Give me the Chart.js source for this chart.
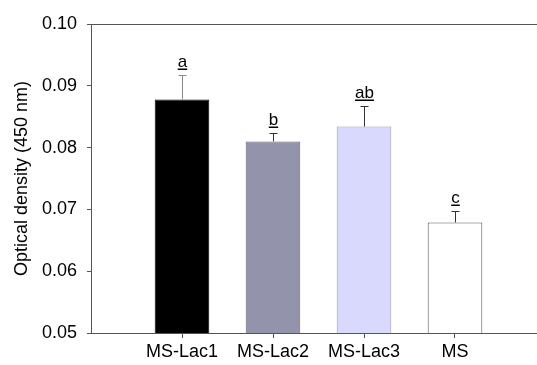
<!DOCTYPE html>
<html><head><meta charset="utf-8">
<script src="https://cdn.jsdelivr.net/npm/chart.js@4"></script>
<style>html,body{margin:0;padding:0;background:#fff;overflow:hidden}#wrap{width:537px;height:365px;position:relative}</style>
</head><body><div id="wrap"><canvas id="c"></canvas></div>
<script>
// ---- data ----
const categories = ['MS-Lac1', 'MS-Lac2', 'MS-Lac3', 'MS'];
const meanValues = [0.0878, 0.0810, 0.0834, 0.0679];
const errorValues = [0.0039, 0.0013, 0.0034, 0.0019];
const groupLetters = ['a', 'b', 'ab', 'c'];
const yTickValues = [0.05, 0.06, 0.07, 0.08, 0.09, 0.10];
const yAxisTitle = 'Optical density (450 nm)';

// ---- styles ----
const fillColors = ['#000000', '#9393ab', '#d9d9fd', '#ffffff'];
const borderColors = ['#000000', '#62627c', '#9a9ab4', '#555555'];
const errorColors = ['#8a8a8a', '#333333', '#333333', '#333333'];
const FONT = '"Liberation Sans", Arial, sans-serif';
const axisColor = '#555555';

const points = meanValues.map((v, i) => ({ x: i + 1, y: v }));

const errorPlugin = {
  id: 'errLetters',
  afterDatasetsDraw(chart) {
    const ctx = chart.ctx, xs = chart.scales.x, ys = chart.scales.y;
    ctx.save();
    meanValues.forEach((m, i) => {
      const x = Math.round(xs.getPixelForValue(i + 1)) + 0.5;
      const yb = ys.getPixelForValue(m);
      const yt = Math.round(ys.getPixelForValue(m + errorValues[i])) + 0.5;
      ctx.strokeStyle = errorColors[i];
      ctx.lineWidth = 1;
      ctx.beginPath();
      ctx.moveTo(x, yb); ctx.lineTo(x, yt);
      ctx.moveTo(x - 4, yt); ctx.lineTo(x + 4, yt);
      ctx.stroke();
      // letter
      ctx.font = '17px ' + FONT;
      ctx.fillStyle = '#000';
      ctx.textAlign = 'center';
      ctx.textBaseline = 'alphabetic';
      const base = yt - 9;
      ctx.fillText(groupLetters[i], x, base);
      const w = ctx.measureText(groupLetters[i]).width;
      ctx.fillRect(x - w / 2, base + 2, w, 1.5);
    });
    ctx.restore();
  }
};

new Chart(document.getElementById('c'), {
  type: 'bar',
  data: {
    datasets: [{
      data: points,
      backgroundColor: fillColors,
      borderColor: borderColors,
      borderWidth: 1,
      categoryPercentage: 1.0,
      barPercentage: 0.6
    }]
  },
  options: {
    responsive: true,
    maintainAspectRatio: false,
    animation: false,
    layout: { padding: { top: 24, left: 0, right: 0, bottom: 0 } },
    plugins: { legend: { display: false }, tooltip: { enabled: false } },
    scales: {
      x: {
        type: 'linear',
        min: 0,
        max: 446 / 91,
        offset: false,
        afterBuildTicks: s => { s.ticks = categories.map((c, i) => ({ value: i + 1 })); },
        afterFit: s => { s.height = 32; },
        ticks: {
          callback: (v, i) => categories[i],
          font: { family: FONT, size: 18 },
          color: '#000',
          padding: 3,
          maxRotation: 0,
          autoSkip: false
        },
        grid: { offset: false, drawOnChartArea: false, drawTicks: true, tickLength: 5, tickColor: axisColor },
        border: { color: axisColor, width: 1 }
      },
      y: {
        min: 0.05,
        max: 0.10,
        afterBuildTicks: s => { s.ticks = yTickValues.map(v => ({ value: v })); },
        afterFit: s => { s.width = 91; },
        ticks: {
          callback: v => Number(v).toFixed(2),
          font: { family: FONT, size: 18 },
          color: '#000',
          padding: 10
        },
        grid: {
          drawTicks: true,
          tickLength: 4,
          tickColor: axisColor,
          color: c => (c.tick && Math.abs(c.tick.value - 0.10) < 1e-9) ? axisColor : 'rgba(0,0,0,0)'
        },
        border: { color: axisColor, width: 1 },
        title: {
          display: true,
          text: yAxisTitle,
          font: { family: FONT, size: 18 },
          color: '#000',
          padding: { top: 11, bottom: 0 }
        }
      }
    }
  },
  plugins: [errorPlugin]
});
</script>
</body></html>
